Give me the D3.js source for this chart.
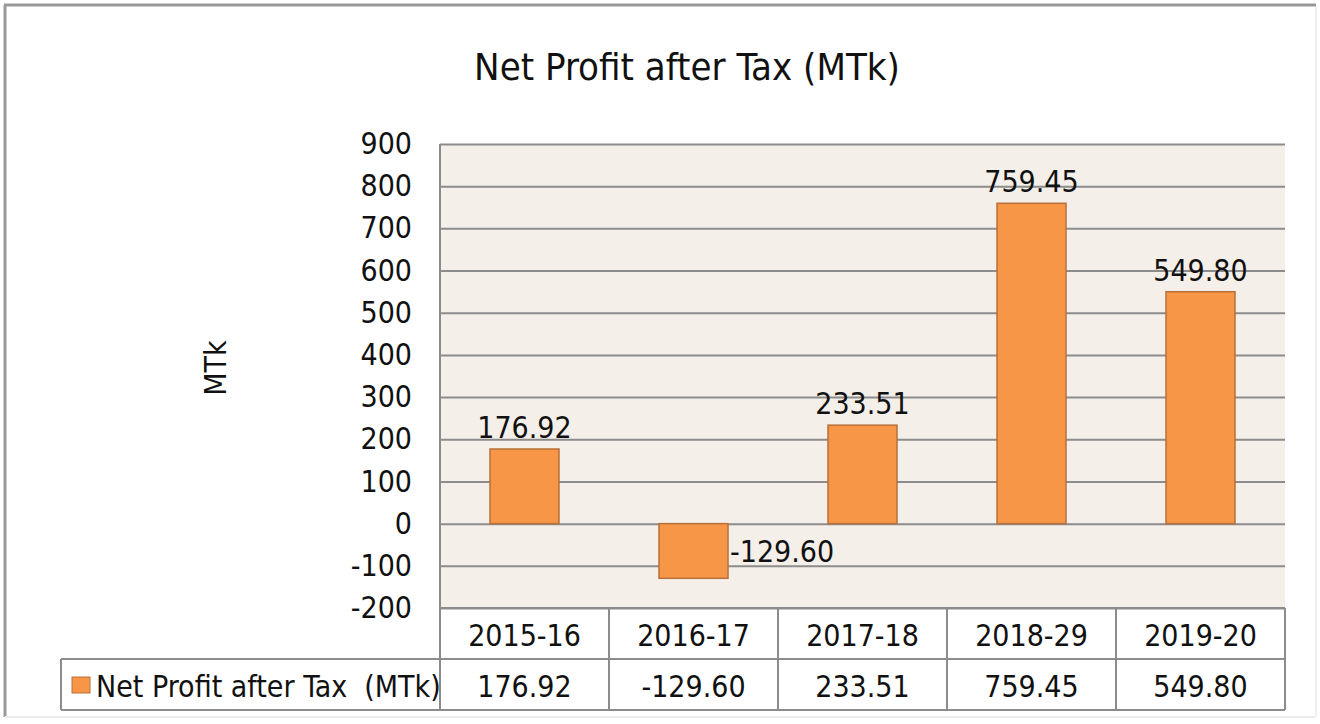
<!DOCTYPE html>
<html>
<head>
  <meta content="text/html;charset=utf-8" http-equiv="Content-Type">
  <title>Net Profit after Tax</title>
<script src="https://cdnjs.cloudflare.com/ajax/libs/d3/7.6.1/d3.min.js"></script>
<style>
  body { margin: 0; background: #fff; }
  text { font-family: 'DejaVu Sans Condensed', 'DejaVu Sans', sans-serif; font-stretch: condensed; fill: #111; }
</style>
</head>
<body>
<svg id="chart" width="1320" height="724"></svg>
<script>

let years   = ['2015-16', '2016-17', '2017-18', '2018-29', '2019-20'];
let profits = [176.92, -129.60, 233.51, 759.45, 549.80];
let yTicks  = [-200, -100, 0, 100, 200, 300, 400, 500, 600, 700, 800, 900];

let seriesName = 'Net Profit after Tax  (MTk)';
let rows = years.map((y, i) => ({year: y, val: profits[i]}));

let svg = d3.select('#chart');

// outer frame
svg.append('line').attr('x1', 4).attr('y1', 5).attr('x2', 1316).attr('y2', 5)
   .attr('stroke', '#999').attr('stroke-width', 3);
svg.append('line').attr('x1', 5).attr('y1', 5).attr('x2', 5).attr('y2', 717)
   .attr('stroke', '#999').attr('stroke-width', 3);
svg.append('line').attr('x1', 5).attr('y1', 717).attr('x2', 1316).attr('y2', 717)
   .attr('stroke', '#ececec').attr('stroke-width', 2);
svg.append('line').attr('x1', 1316).attr('y1', 7).attr('x2', 1316).attr('y2', 717)
   .attr('stroke', '#f0f0f0').attr('stroke-width', 2);

let plotL = 440, plotR = 1285, plotT = 144, plotB = 608;
let rowH = 51;

let x = d3.scaleBand().domain(years).range([plotL, plotR]);
let y = d3.scaleLinear().domain([-200, 900]).range([plotB, plotT]);
let barW = 69;

// plot background
svg.append('rect')
   .attr('x', plotL).attr('y', plotT)
   .attr('width', plotR - plotL).attr('height', plotB - plotT)
   .attr('fill', '#f5efe9');

// gridlines + tick labels
let yAxis = svg.append('g')
   .attr('transform', `translate(${plotL},0)`)
   .call(d3.axisLeft(y).tickValues(yTicks).tickSize(-(plotR - plotL)).tickPadding(28).tickFormat(d => String(d)));
yAxis.select('.domain').remove();
yAxis.selectAll('line').attr('stroke', '#8c8c8c').attr('stroke-width', 2);
yAxis.attr('font-family', null).attr('font-size', null);
yAxis.selectAll('text')
   .attr('font-size', 30)
   .attr('fill', '#111');

// bars
svg.append('g').selectAll('rect')
   .data(rows)
   .enter()
   .append('rect')
   .attr('x', d => x(d.year) + (x.bandwidth() - barW) / 2)
   .attr('y', d => y(Math.max(0, d.val)))
   .attr('width', barW)
   .attr('height', d => Math.abs(y(d.val) - y(0)))
   .attr('fill', '#f79646')
   .attr('stroke', '#b8703a')
   .attr('stroke-width', 1.5);

// data labels
svg.append('g').selectAll('text')
   .data(rows)
   .enter()
   .append('text')
   .attr('font-size', 30)
   .attr('x', d => d.val < 0 ? x(d.year) + (x.bandwidth() + barW) / 2 + 2 : x(d.year) + x.bandwidth() / 2)
   .attr('y', d => d.val < 0 ? (y(0) + y(d.val)) / 2 + 11 : y(d.val) - 11)
   .attr('text-anchor', d => d.val < 0 ? 'start' : 'middle')
   .text(d => d.val.toFixed(2));

// y-axis line
svg.append('line')
   .attr('x1', plotL).attr('x2', plotL).attr('y1', plotT).attr('y2', plotB + 2 * rowH)
   .attr('stroke', '#8c8c8c').attr('stroke-width', 2);

// data table
let tbl = svg.append('g');
let lineColor = '#8c8c8c';
tbl.append('line').attr('x1', plotL).attr('x2', plotR).attr('y1', plotB).attr('y2', plotB)
   .attr('stroke', lineColor).attr('stroke-width', 2);
tbl.append('line').attr('x1', 61).attr('x2', plotR).attr('y1', plotB + rowH).attr('y2', plotB + rowH)
   .attr('stroke', lineColor).attr('stroke-width', 2);
tbl.append('line').attr('x1', 61).attr('x2', plotR).attr('y1', plotB + 2 * rowH).attr('y2', plotB + 2 * rowH)
   .attr('stroke', lineColor).attr('stroke-width', 2);
tbl.append('line').attr('x1', 61).attr('x2', 61).attr('y1', plotB + rowH).attr('y2', plotB + 2 * rowH)
   .attr('stroke', lineColor).attr('stroke-width', 2);
tbl.selectAll('.sep')
   .data(years)
   .enter()
   .append('line')
   .attr('class', 'sep')
   .attr('x1', d => x(d) + x.bandwidth()).attr('x2', d => x(d) + x.bandwidth())
   .attr('y1', plotB).attr('y2', plotB + 2 * rowH)
   .attr('stroke', lineColor).attr('stroke-width', 2);

tbl.selectAll('.cat')
   .data(rows)
   .enter()
   .append('text')
   .attr('class', 'cat')
   .attr('font-size', 30)
   .attr('text-anchor', 'middle')
   .attr('x', d => x(d.year) + x.bandwidth() / 2)
   .attr('y', plotB + 38)
   .text(d => d.year);

tbl.selectAll('.val')
   .data(rows)
   .enter()
   .append('text')
   .attr('class', 'val')
   .attr('font-size', 30)
   .attr('text-anchor', 'middle')
   .attr('x', d => x(d.year) + x.bandwidth() / 2)
   .attr('y', plotB + rowH + 38)
   .text(d => d.val.toFixed(2));

// legend key in table
tbl.append('rect')
   .attr('x', 72).attr('y', 677).attr('width', 18).attr('height', 16)
   .attr('fill', '#f79646').attr('stroke', '#b8703a').attr('stroke-width', 1);
tbl.append('text')
   .attr('x', 96).attr('y', plotB + rowH + 38)
   .attr('font-size', 30)
   .style('white-space', 'pre')
   .text(seriesName);

// title
svg.append('text')
   .attr('x', 687).attr('y', 80)
   .attr('text-anchor', 'middle')
   .attr('font-size', 38)
   .text('Net Profit after Tax (MTk)');

// y-axis title
svg.append('text')
   .attr('transform', 'translate(226,368) rotate(-90)')
   .attr('text-anchor', 'middle')
   .attr('font-size', 30)
   .text('MTk');

</script>
</body>
</html>
